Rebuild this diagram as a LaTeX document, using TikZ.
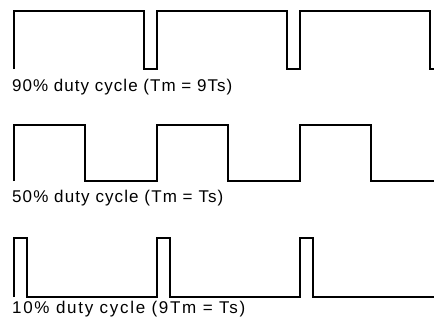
\documentclass[tikz,border=0pt]{standalone}
\usepackage{fontspec}
\setmainfont{Liberation Sans}
\usetikzlibrary{positioning}
\tikzset{
  wave/.style={line width=2.3bp, line join=miter, black},
  dutylabel/.style={anchor=base west, inner sep=0pt,
    font=\fontsize{17bp}{20bp}\selectfont\addfontfeatures{LetterSpace=#1}},
  dutylabel/.default=6
}

\begin{document}
\begin{tikzpicture}[x=1bp, y=-1bp]
\useasboundingbox (0,0) rectangle (434,331);
\clip (0,0) rectangle (434,331);

% 90% duty cycle
\draw[wave] (14,69) \foreach \k in {0,1,2} {
    -- ({14+143*\k},11) -- ({144+143*\k},11) -- ({144+143*\k},69) -- ({157+143*\k},69)};
\node[dutylabel=6] (lab90) at (12,91) {90\% duty cycle (Tm = 9Ts)};

% 50% duty cycle
\draw[wave] (14,181) \foreach \k in {0,1,2} {
    -- ({14+143*\k},125) -- ({85+143*\k},125) -- ({85+143*\k},181) -- ({157+143*\k},181)};
\node[dutylabel=6.5] (lab50) at (12,202) {50\% duty cycle (Tm = Ts)};

% 10% duty cycle
\draw[wave] (14,297) \foreach \k in {0,1,2} {
    -- ({14+143*\k},238) -- ({27+143*\k},238) -- ({27+143*\k},297) -- ({157+143*\k},297)};
\node[dutylabel=10] (lab10) at (12,313) {10\% duty cycle (9Tm = Ts)};
\end{tikzpicture}
\end{document}
